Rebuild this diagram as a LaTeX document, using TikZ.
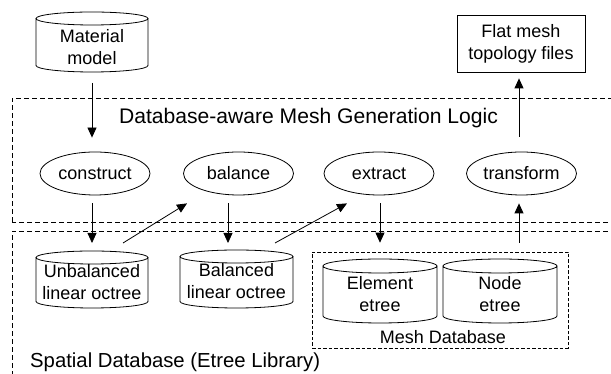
\documentclass[tikz,border=0pt]{standalone}
\usepackage{fontspec}
\setmainfont{Liberation Sans}
\usetikzlibrary{shapes.geometric,arrows.meta,calc}

% database cylinder drawn over a plain rectangular node: #1 node name, #2 cap half-height
\newcommand\dbcyl[2]{%
  \draw[cylline] let \p1=(#1.north west), \p2=(#1.south east), \n1={(\x2-\x1)/2} in
    (\x1,\y1-#2) -- (\x1,\y2+#2)
    arc[start angle=180, end angle=360, x radius=\n1, y radius=#2]
    -- (\x2,\y1-#2)
    (\x1+\n1,\y1-#2) ellipse[x radius=\n1, y radius=#2];}

\tikzset{
  lbl/.style={font=\fontsize{18}{22}\selectfont, align=center, inner sep=0pt},
  biglbl/.style={font=\fontsize{20.3}{24}\selectfont, inner sep=0pt},
  titlelbl/.style={font=\fontsize{21.1}{24}\selectfont, inner sep=0pt},
  cylbox/.style={inner sep=0pt, outer sep=0pt},
  cylline/.style={line width=0.8pt},
  procnode/.style={ellipse, draw, line width=0.8pt, minimum width=110pt, minimum height=43pt,
    inner sep=0pt, font=\fontsize{18}{22}\selectfont},
  filebox/.style={rectangle, draw, line width=0.8pt, minimum width=128pt, minimum height=57pt,
    inner sep=0pt, align=center, font=\fontsize{18}{22}\selectfont},
  layerbox/.style={draw, line width=0.8pt, dash pattern=on 5pt off 3pt},
  groupbox/.style={rectangle, draw, line width=0.6pt, dash pattern=on 3.5pt off 2pt,
    minimum width=256pt, minimum height=96pt, inner sep=0pt},
  arr/.style={line width=0.8pt, -{Triangle[length=10pt,width=9pt]}},
}

\begin{document}
\begin{tikzpicture}[x=1pt,y=1pt]
\clip (0,0) rectangle (611,374);
\fill[white] (0,0) rectangle (611,374);

% layers
\draw[layerbox] (12,-10) rectangle (630,143);
\draw[layerbox] (12,152) rectangle (630,276);
\node[titlelbl, anchor=base] (logic) at (308.5,250) {Database-aware Mesh Generation Logic};
\node[biglbl, anchor=base west] (spatial) at (30,6) {Spatial Database (Etree Library)};

% input and output
\node[cylbox, minimum width=112pt, minimum height=60pt] (mat) at (92,332) {};
\dbcyl{mat}{6.5pt}
\node[lbl] (mat-txt) at (92,326.5) {Material\\model};
\node[filebox] (flat) at (521,330.5) {Flat mesh\\topology files};

% processing steps
\node[procnode] (construct) at (95,200.5) {construct};
\node[procnode] (balance) at (238.5,200.5) {balance};
\node[procnode] (extract) at (379,200.5) {extract};
\node[procnode] (transform) at (521.5,200.5) {transform};

% octrees
\node[cylbox, minimum width=112pt, minimum height=57pt] (unb) at (92,94.5) {};
\dbcyl{unb}{6.5pt}
\node[lbl] (unb-txt) at (92,91.5) {Unbalanced\\linear octree};
\node[cylbox, minimum width=113pt, minimum height=58pt] (bal) at (236.5,95) {};
\dbcyl{bal}{6.5pt}
\node[lbl] (bal-txt) at (236.5,92.8) {Balanced\\linear octree};

% mesh database
\node[groupbox] (meshdb) at (440,74) {};
\node[lbl, anchor=base] (meshdb-txt) at (443,30.7) {Mesh Database};
\node[cylbox, minimum width=114pt, minimum height=64pt] (elem) at (380,83) {};
\dbcyl{elem}{7pt}
\node[lbl] (elem-txt) at (380,79.5) {Element\\etree};
\node[cylbox, minimum width=114pt, minimum height=64pt] (nodeet) at (500,83) {};
\dbcyl{nodeet}{7pt}
\node[lbl] (nodeet-txt) at (500,79.5) {Node\\etree};

% data flow
\coordinate (b-in) at ([xshift=-8.5pt]bal.north);
\coordinate (t-in) at ([xshift=19pt]nodeet.north);
\draw[arr, shorten <=11pt, shorten >=14pt] (mat.south) -- (mat.south |- construct.north);
\draw[arr, shorten <=8pt, shorten >=8pt] (unb.north |- construct.south) -- (unb.north);
\draw[arr] ([shift={(31pt,8pt)}]unb.north) -- ([shift={(-51.5pt,-8pt)}]balance.south);
\draw[arr, shorten <=8pt, shorten >=7pt] (b-in |- balance.south) -- (b-in);
\draw[arr] ([shift={(38.5pt,7pt)}]bal.north) -- ([shift={(-32pt,-8pt)}]extract.south);
\draw[arr, shorten <=8pt, shorten >=9pt] (elem.north |- extract.south) -- (elem.north |- meshdb.north);
\draw[arr, shorten <=9pt, shorten >=8pt] (t-in |- meshdb.north) -- (t-in |- transform.south);
\draw[arr, shorten <=15pt, shorten >=6pt] (t-in |- transform.north) -- (t-in |- flat.south);
\end{tikzpicture}
\end{document}
